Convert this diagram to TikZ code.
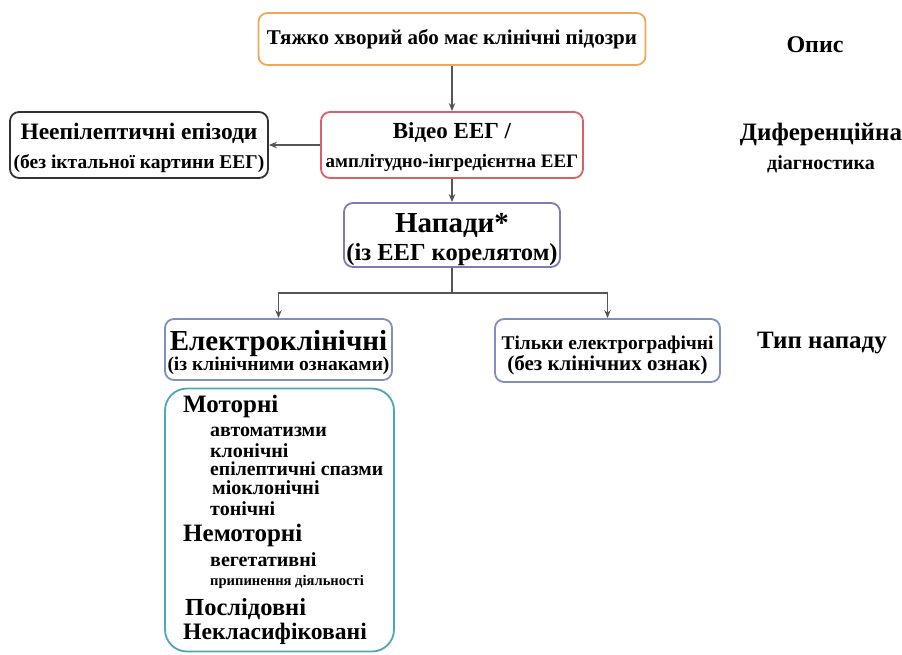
\documentclass[tikz,border=0pt]{standalone}
\usepackage{fontspec}
\setmainfont{Liberation Serif}
\usetikzlibrary{arrows.meta}

\definecolor{topline}{HTML}{F2A65A}
\definecolor{eegline}{HTML}{D9606A}
\definecolor{nonline}{HTML}{333333}
\definecolor{seizline}{HTML}{7B7BB5}
\definecolor{typeline}{HTML}{7F8FC0}
\definecolor{listline}{HTML}{4EA5B5}
\definecolor{linkgray}{HTML}{555555}

\newcommand{\fsz}[1]{\fontsize{#1}{#1}\selectfont}

\begin{document}
\begin{tikzpicture}[x=1pt,y=-1pt,
    box/.style={draw, rounded corners=9pt, line width=1.8pt, fill=white,
      align=center, inner sep=0pt, font=\bfseries},
    link/.style={draw=linkgray, line width=1.5pt, -{Stealth[length=8pt,width=6.5pt]}},
    side/.style={font=\bfseries, align=center}]
    \useasboundingbox (0,0) rectangle (902,654);

    % top row
    \node[box, draw=topline, minimum width=387pt, minimum height=52pt] (ill) at (452,39)
        {\fsz{21}Тяжко хворий або має клінічні підозри};
    \node[side] (lbldesc) at (815,45) {\fsz{24}Опис};

    % differential diagnosis
    \node[box, draw=eegline, minimum width=262pt, minimum height=66pt] (eeg) at (452,145)
        {\rule{0pt}{20pt}\fsz{23}Відео ЕЕГ /\\[10pt]\fsz{19}амплітудно-інгредієнтна ЕЕГ};
    \node[box, draw=nonline, minimum width=258pt, minimum height=66pt] (nonep) at (139,145)
        {\rule{0pt}{22.5pt}\fsz{23.5}Неепілептичні епізоди\\[10pt]\fsz{19.5}(без іктальної картини ЕЕГ)};
    \node[side] (lbldiff) at (821,148)
        {\fsz{25}Диференційна\\[8pt]\fsz{20}діагностика};

    % seizures
    \node[box, draw=seizline, minimum width=216pt, minimum height=64pt] (seiz) at (452,235)
        {\rule{0pt}{28pt}\fsz{29}Напади*\\[5pt]\fsz{24.5}(із ЕЕГ корелятом)};
    \coordinate (fork) at (452,293);

    % seizure type
    \node[box, draw=typeline, minimum width=227pt, minimum height=61pt] (clin) at (278.5,349.5)
        {\rule{0pt}{26pt}\fsz{29}Електроклінічні\\[0pt]\fsz{19.5}(із клінічними ознаками)};
    \node[box, draw=typeline, minimum width=225pt, minimum height=63pt] (elgr) at (607.5,350.5)
        {\rule{0pt}{23.5pt}\fsz{19.4}Тільки електрографічні\\[1pt]\fsz{21}(без клінічних ознак)};
    \node[side] (lbltype) at (822,343) {\fsz{25}Тип нападу};

    % list of electroclinical seizures
    \node[box, draw=listline, rounded corners=22pt, minimum width=229pt, minimum height=263pt]
        (kinds) at (279.5,520) {};
    \foreach \yy/\xx/\ss/\tt [count=\i] in {
        406/183/25/Моторні, 432/210/20/автоматизми, 451/210/20/клонічні,
        469/210/19.7/епілептичні спазми, 488/212/20/міоклонічні, 509/210/20/тонічні,
        535/183/25/Немоторні, 560/210/20/вегетативні, 582/210/14.6/припинення діяльності,
        609/185/24.5/Послідовні, 634/183/23.6/Некласифіковані}
        \node[anchor=west, inner sep=0pt, font=\bfseries] (item\i) at (\xx,\yy) {\fsz{\ss}\tt};

    % connectors
    \draw[link] (ill) -- (eeg);
    \draw[link] (eeg) -- (nonep);
    \draw[link] (eeg) -- (seiz);
    \draw[draw=linkgray, line width=1.5pt] (seiz) -- (fork);
    \draw[link] (fork) -| (clin);
    \draw[link] (fork) -| (elgr);
\end{tikzpicture}
\end{document}
